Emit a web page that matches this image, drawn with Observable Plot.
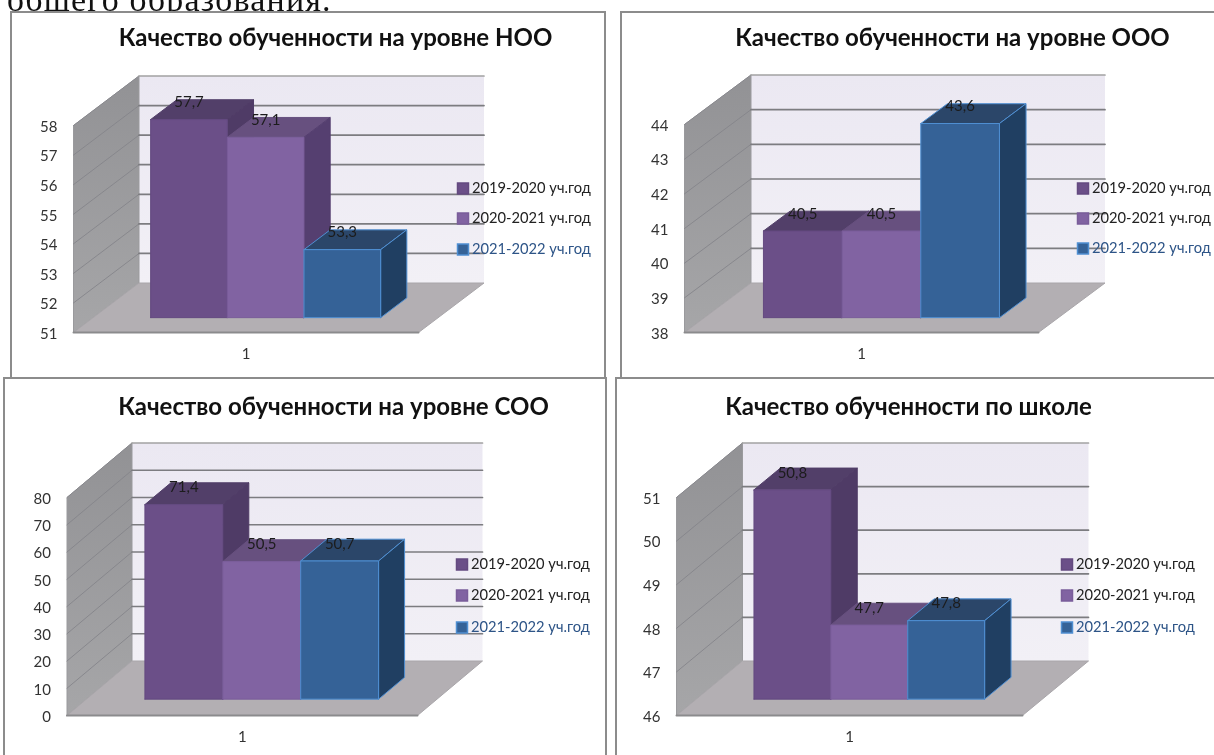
<!DOCTYPE html>
<html><head><meta charset="utf-8">
<script src="https://cdn.jsdelivr.net/npm/d3@7"></script>
<script src="https://cdn.jsdelivr.net/npm/@observablehq/plot@0.6"></script>
<style>
html,body{margin:0;padding:0;background:#fff;width:1214px;height:755px;overflow:hidden}
#page{position:relative;width:1214px;height:755px;overflow:hidden;filter:blur(.45px)}
#head{position:absolute;left:7px;top:-19px;font:34px "Liberation Serif",serif;letter-spacing:1.2px;color:#111;white-space:nowrap}
</style></head><body><div id="page"><div id="head">общего образования.</div></div>
<script>
const seriesNames = ["2019-2020 уч.год", "2020-2021 уч.год", "2021-2022 уч.год"];
const titleNoo = "Качество обученности на уровне НОО";
const titleOoo = "Качество обученности на уровне ООО";
const titleSoo = "Качество обученности на уровне СОО";
const titleSchool = "Качество обученности по школе";
const nooValues = [57.7, 57.1, 53.3];
const oooValues = [40.5, 40.5, 43.6];
const sooValues = [71.4, 50.5, 50.7];
const schoolValues = [50.8, 47.7, 47.8];
const nooTicks = [51, 52, 53, 54, 55, 56, 57, 58];
const oooTicks = [38, 39, 40, 41, 42, 43, 44];
const sooTicks = [0, 10, 20, 30, 40, 50, 60, 70, 80];
const schoolTicks = [46, 47, 48, 49, 50, 51];
const categoryLabel = "1";

const frontColors = ["#6b4f88", "#8163a2", "#356297"];
const topColors = ["#523f69", "#67507f", "#2b4669"];
const sideColors = ["#4f3b66", "#553f70", "#203f62"];
const edgeColors = ["#644a80", "#7a5d9a", "#4f8fd2"];
const legendInk = ["#222", "#222", "#2d5487"];

// page layout of every panel: box, front axis corners, depth of the floor
const panels = [
  {title: titleNoo,    values: nooValues,    ticks: nooTicks,    box: [12, 13, 592, 364],  fx: [73, 418],  fy: [332, 125], d: [65.5, 49.5], tc: 335, ty: 38,  lx: 457, ly: [188, 218, 249]},
  {title: titleOoo,    values: oooValues,    ticks: oooTicks,    box: [622, 13, 640, 364], fx: [684, 1038], fy: [332, 124], d: [66.5, 49.5], tc: 952, ty: 38,  lx: 1077, ly: [188, 218, 248]},
  {title: titleSoo,    values: sooValues,    ticks: sooTicks,    box: [5, 379, 600, 400],  fx: [66.5, 417], fy: [715, 497], d: [65, 54.5],  tc: 333, ty: 407, lx: 456, ly: [564, 595, 627]},
  {title: titleSchool, values: schoolValues, ticks: schoolTicks, box: [617, 379, 640, 400], fx: [676, 1022], fy: [715, 497], d: [66, 54.5],  tc: 908, ty: 407, lx: 1061, ly: [564, 595, 627]}
];

const fontFamily = "Lato, Carlito, sans-serif";

function drawPanel(p) {
  const [l, t, w, h] = p.box;
  const lo = d3.min(p.ticks), hi = d3.max(p.ticks);
  const W = p.fx[1] - p.fx[0], H = p.fy[0] - p.fy[1];
  const ppu = H / (hi - lo);
  // a point of the 3D box, in data units: fraction across, value, fraction of depth
  const P = (x, v, depth = 0) => ({x: x + depth * p.d[0] / W, y: v + depth * p.d[1] / ppu});
  const poly = (pts, o) => Plot.line([...pts, pts[0]], {x: "x", y: "y", curve: "linear", strokeWidth: 1, ...o});
  const pageX = (px) => (px - p.fx[0]) / W;
  const pageY = (py) => lo + (p.fy[0] - py) / ppu;

  const defs = () => {
    const svg = d3.create("svg:defs");
    const grad = (id, a, b) => {
      const g = svg.append("linearGradient").attr("id", id).attr("x1", 0).attr("y1", 0).attr("x2", 0).attr("y2", 1);
      g.append("stop").attr("offset", 0).attr("stop-color", a);
      g.append("stop").attr("offset", 1).attr("stop-color", b);
    };
    grad("wallG", "#929295", "#a6a6a8");
    grad("backG", "#ebe8f2", "#f2f0f6");
    return svg.node();
  };

  const marks = [defs];
  // back wall, left wall, floor
  marks.push(poly([P(0, lo, 1), P(1, lo, 1), P(1, hi, 1), P(0, hi, 1)], {fill: "url(#backG)", stroke: "none"}));
  marks.push(poly([P(0, lo, 0), P(0, lo, 1), P(0, hi, 1), P(0, hi, 0)], {fill: "url(#wallG)", stroke: "#9a9a9d"}));
  marks.push(poly([P(0, lo, 0), P(1, lo, 0), P(1, lo, 1), P(0, lo, 1)], {fill: "#b3afb3", stroke: "#a9a6aa"}));
  // gridlines
  for (const v of p.ticks) {
    if (v !== lo) marks.push(Plot.line([P(0, v, 0), P(0, v, 1)], {x: "x", y: "y", stroke: "#85858a", strokeWidth: 0.9}));
    if (v !== lo) marks.push(Plot.line([P(0, v, 1), P(1, v, 1)], {x: "x", y: "y", stroke: v === hi ? "#a2a2a2" : "#7c7c80", strokeWidth: 1.7}));
  }
  marks.push(Plot.line([P(0, lo, 0), P(1, lo, 0)], {x: "x", y: "y", stroke: "#8b8b8d", strokeWidth: 2}));

  // bars: 150% gap, depth running from 0.3 to 0.7 of the floor
  const bw = 1 / 4.5, x0 = 0.75 / 4.5, d0 = 0.3, d1 = 0.7;
  p.values.forEach((v, i) => {
    const a = x0 + i * bw, b = a + bw;
    marks.push(poly([P(a, v, d0), P(b, v, d0), P(b, v, d1), P(a, v, d1)], {fill: topColors[i], stroke: i === 2 ? edgeColors[2] : topColors[i]}));
    marks.push(poly([P(b, lo, d0), P(b, lo, d1), P(b, v, d1), P(b, v, d0)], {fill: sideColors[i], stroke: i === 2 ? edgeColors[2] : sideColors[i]}));
    marks.push(poly([P(a, lo, d0), P(b, lo, d0), P(b, v, d0), P(a, v, d0)], {fill: frontColors[i], stroke: edgeColors[i]}));
  });
  // value labels
  marks.push(Plot.text(p.values, {
    x: (v, i) => P(x0 + (i + 0.5) * bw, v, d0).x,
    y: (v) => P(0, v, d0).y,
    text: (v) => String(v.toFixed(1)).replace(".", ","),
    dy: -17, fontSize: 15, fill: "#1c1c1c"
  }));
  // axes
  marks.push(Plot.axisY({ticks: p.ticks, tickSize: 0, tickPadding: 16, label: null, fontSize: 15, tickFormat: (d) => String(d), color: "#333", dy: 1.5}));
  marks.push(Plot.axisX({ticks: [0.5], tickSize: 0, tickPadding: 16, label: null, fontSize: 15, tickFormat: () => categoryLabel, color: "#333"}));
  // title
  marks.push(Plot.text([p.title], {x: () => pageX(p.tc), y: () => pageY(p.ty), text: (d) => d, fontSize: 24, fontWeight: 700, fill: "#111"}));
  // legend
  marks.push(Plot.dot(seriesNames, {x: () => pageX(p.lx + 5.5), y: (d, i) => pageY(p.ly[i]), symbol: "square", r: 6.2, fill: (d) => d, stroke: (d, i) => edgeColors[i]}));
  marks.push(Plot.text(seriesNames, {x: () => pageX(p.lx + 14.5), y: (d, i) => pageY(p.ly[i]), text: (d) => d, textAnchor: "start", fontSize: 14.7, fill: (d, i) => legendInk[i]}));

  const svg = Plot.plot({
    width: w, height: h,
    marginLeft: p.fx[0] - l, marginRight: l + w - p.fx[1],
    marginTop: p.fy[1] - t, marginBottom: t + h - p.fy[0],
    x: {domain: [0, 1], axis: null},
    y: {domain: [lo, hi], axis: null},
    color: {domain: seriesNames, range: frontColors},
    style: {fontFamily, background: "#fff", overflow: "visible", maxWidth: "none"},
    marks
  });
  svg.style.position = "absolute";
  svg.style.left = l + "px";
  svg.style.top = t + "px";
  svg.style.outline = "2px solid #8c8c8c";
  svg.style.height = h + "px";
  document.getElementById("page").appendChild(svg);
}
panels.forEach(drawPanel);
</script></body></html>
